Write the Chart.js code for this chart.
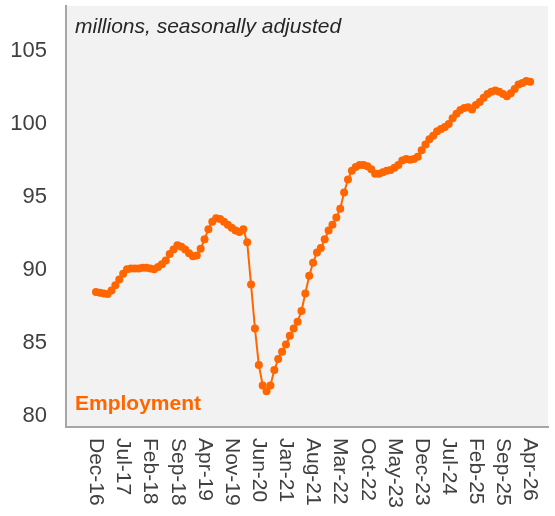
<!DOCTYPE html>
<html>
<head>
<meta charset="utf-8">
<script src="https://cdn.jsdelivr.net/npm/chart.js@4"></script>
<style>
  html, body { margin: 0; padding: 0; background: #fff; }
  #wrap { width: 555px; height: 516px; }
</style>
</head>
<body>
<div id="wrap"><canvas id="myChart" width="555" height="516"></canvas></div>
<script>
// tick labels on the x axis, one every 7 months starting Dec-16
let tickLabels = ['Dec-16', 'Jul-17', 'Feb-18', 'Sep-18', 'Apr-19', 'Nov-19', 'Jun-20', 'Jan-21', 'Aug-21',
  'Mar-22', 'Oct-22', 'May-23', 'Dec-23', 'Jul-24', 'Feb-25', 'Sep-25', 'Apr-26'];
let yTicks = [80, 85, 90, 95, 100, 105];

// monthly employment, millions, Dec-16 .. Apr-26
let employment = [
  88.5, 88.45, 88.4, 88.35, 88.6, 88.95, 89.35, 89.75, 90.05, 90.1,
  90.1, 90.1, 90.15, 90.15, 90.1, 90.05, 90.2, 90.4, 90.65, 91.1,
  91.4, 91.7, 91.6, 91.4, 91.15, 90.95, 91.0, 91.45, 92.1, 92.8,
  93.3, 93.55, 93.5, 93.3, 93.1, 92.9, 92.7, 92.6, 92.8, 91.9,
  89.0, 86.0, 83.5, 82.1, 81.7, 82.1, 83.15, 83.9, 84.4, 84.9,
  85.5, 86.0, 86.45, 87.2, 88.4, 89.6, 90.5, 91.2, 91.5, 92.1,
  92.7, 93.1, 93.6, 94.2, 95.3, 96.2, 96.8, 97.05, 97.2, 97.2,
  97.1, 96.9, 96.6, 96.6, 96.7, 96.8, 96.85, 97.0, 97.2, 97.5,
  97.6, 97.55, 97.6, 97.75, 98.2, 98.6, 98.95, 99.2, 99.5, 99.65,
  99.8, 100.0, 100.4, 100.7, 100.95, 101.1, 101.15, 101.0, 101.3, 101.5,
  101.8, 102.05, 102.2, 102.3, 102.2, 102.05, 101.9, 102.1, 102.4, 102.7,
  102.8, 102.95, 102.9
];

let points = [];
for (let i = 0; i < employment.length; i++) {
  points.push({ x: i, y: employment[i] });
}

const ORANGE = '#ff6600';
const FONT = '"Liberation Sans", Arial, sans-serif';

// grey plot background + inner texts + rotated x labels
let decorations = {
  id: 'decorations',
  beforeDraw(chart) {
    let a = chart.chartArea;
    let ctx = chart.ctx;
    ctx.save();
    ctx.fillStyle = '#f2f2f2';
    ctx.fillRect(a.left, a.top, a.right - a.left, a.bottom - a.top);
    ctx.restore();
  },
  afterDraw(chart) {
    let a = chart.chartArea;
    let ctx = chart.ctx;
    let xs = chart.scales.x;
    ctx.save();
    ctx.fillStyle = '#262626';
    ctx.font = 'italic 21px ' + FONT;
    ctx.textBaseline = 'alphabetic';
    ctx.fillText('millions, seasonally adjusted', a.left + 9, a.top + 27);
    ctx.fillStyle = ORANGE;
    ctx.font = 'bold 21px ' + FONT;
    ctx.fillText('Employment', a.left + 9, a.bottom - 17);

    // x labels, turned clockwise so they read top to bottom
    ctx.fillStyle = '#404040';
    ctx.font = '21px ' + FONT;
    ctx.textAlign = 'left';
    ctx.textBaseline = 'middle';
    for (let k = 0; k < tickLabels.length; k++) {
      let px = xs.getPixelForValue(k * 7);
      ctx.save();
      ctx.translate(px, a.bottom + 11);
      ctx.rotate(Math.PI / 2);
      ctx.fillText(tickLabels[k], 0, 0);
      ctx.restore();
    }
    ctx.restore();
  }
};

const ctx = document.getElementById('myChart').getContext('2d');
const myChart = new Chart(ctx, {
  type: 'line',
  data: {
    datasets: [{
      label: 'Employment',
      data: points,
      borderColor: ORANGE,
      backgroundColor: ORANGE,
      borderWidth: 2,
      pointRadius: 4,
      pointBorderWidth: 0,
      pointBackgroundColor: ORANGE,
      tension: 0
    }]
  },
  options: {
    responsive: false,
    animation: false,
    layout: { padding: { top: 6, right: 7, left: 0, bottom: 0 } },
    plugins: {
      legend: { display: false },
      tooltip: { enabled: false }
    },
    scales: {
      x: {
        type: 'linear',
        min: -7.74,
        max: 116.6,
        grid: { display: false },
        border: { display: true, color: '#a6a6a6', width: 2 },
        ticks: { display: false },
        afterFit(scale) {
          scale.height = 89;
          scale.paddingLeft = 0;
          scale.paddingRight = 0;
        }
      },
      y: {
        min: 79.25,
        max: 108.08,
        grid: { display: false, drawTicks: false },
        border: { display: true, color: '#a6a6a6', width: 2 },
        afterBuildTicks(scale) {
          scale.ticks = yTicks.map(v => ({ value: v }));
        },
        ticks: {
          color: '#404040',
          padding: 19,
          font: { family: FONT, size: 22 }
        },
        afterFit(scale) {
          scale.width = 66;
          scale.paddingTop = 0;
          scale.paddingBottom = 0;
        }
      }
    }
  },
  plugins: [decorations]
});
</script>
</body>
</html>
